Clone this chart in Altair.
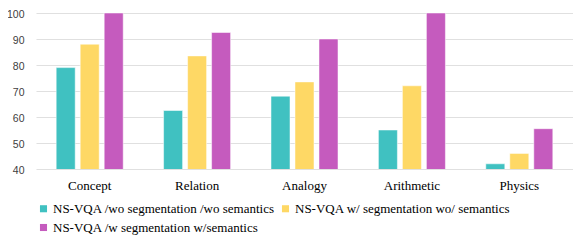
import altair as alt
import pandas as pd

categories = ["Concept", "Relation", "Analogy", "Arithmetic", "Physics"]
series_names = [
    "NS-VQA /wo segmentation /wo semantics",
    "NS-VQA w/ segmentation wo/ semantics",
    "NS-VQA /w segmentation w/semantics",
]
wo_seg_wo_sem = [79, 62.5, 68, 55, 42]
w_seg_wo_sem = [88, 83.5, 73.5, 72, 46]
w_seg_w_sem = [100, 92.5, 90, 100, 55.5]
colors = ["#40C1C1", "#FED865", "#C55BBE"]
y_ticks = [40, 50, 60, 70, 80, 90, 100]

rows = []
for name, vals in zip(series_names, [wo_seg_wo_sem, w_seg_wo_sem, w_seg_w_sem]):
    for c, v in zip(categories, vals):
        rows.append({"category": c, "series": name, "value": v})
df = pd.DataFrame(rows)

chart = alt.Chart(df).mark_bar(
    clip=True, stroke="white", strokeWidth=1, strokeOpacity=0.5
).encode(
    x=alt.X("category:N", sort=categories, title=None,
            scale=alt.Scale(paddingInner=0.376, paddingOuter=0.188),
            axis=alt.Axis(labelAngle=0, labelFont="Liberation Serif", labelFontSize=13,
                          labelColor="#000000", ticks=False, domain=False, labelPadding=10)),
    xOffset=alt.XOffset("series:N", sort=series_names,
                        scale=alt.Scale(paddingInner=0.208, paddingOuter=0)),
    y=alt.Y("value:Q", title=None,
            scale=alt.Scale(domain=[40, 100], nice=False, zero=False),
            axis=alt.Axis(values=y_ticks, labelFont="Liberation Sans", labelFontSize=10.5,
                          labelColor="#404040", ticks=False, domain=False, labelPadding=12,
                          labelOffset=1, gridColor="#E0E0E0", gridWidth=1.2)),
    color=alt.Color("series:N", sort=series_names, title=None,
                    scale=alt.Scale(domain=series_names, range=colors),
                    legend=alt.Legend(orient="none", legendX=1, legendY=189, columns=2,
                                      direction="horizontal",
                                      symbolType="square", symbolSize=50,
                                      symbolStrokeWidth=0, labelFont="Liberation Serif",
                                      labelFontSize=13, labelColor="#000000",
                                      labelOffset=3, columnPadding=4, rowPadding=5,
                                      padding=0, labelLimit=400)),
).properties(
    width=537, height=156,
    autosize=alt.AutoSizeParams(type="none"),
    padding={"left": 28, "top": 5, "right": 0, "bottom": 71},
).configure_view(stroke=None)

chart.save("out.html", embed_options={"renderer": "svg", "actions": False})
